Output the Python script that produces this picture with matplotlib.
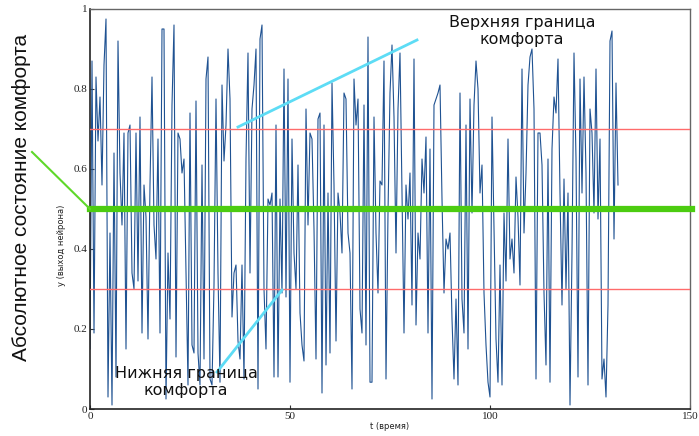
import matplotlib
matplotlib.use("Agg")
import matplotlib.pyplot as plt
from matplotlib.lines import Line2D

# neuron output y over time t (step 0.5)
y_values = [
    0.15, 0.87, 0.19, 0.83, 0.67, 0.78, 0.56, 0.86, 0.975, 0.03, 0.44, 0.01, 0.64, 0.08, 0.92,
    0.59, 0.46, 0.69, 0.15, 0.69, 0.71, 0.34, 0.30, 0.69, 0.32, 0.73, 0.19, 0.56, 0.48, 0.175,
    0.56, 0.83, 0.46, 0.375, 0.675, 0.19, 0.95, 0.95, 0.025, 0.39, 0.225, 0.76, 0.96, 0.13, 0.69,
    0.675, 0.59, 0.625, 0.34, 0.06, 0.74, 0.16, 0.14, 0.77, 0.14, 0.06, 0.61, 0.125, 0.825, 0.88,
    0.075, 0.06, 0.31, 0.775, 0.34, 0.067, 0.81, 0.62, 0.71, 0.90, 0.775, 0.23, 0.34, 0.36, 0.17,
    0.125, 0.36, 0.075, 0.625, 0.89, 0.34, 0.75, 0.81, 0.90, 0.05, 0.925, 0.96, 0.30, 0.15, 0.525,
    0.51, 0.54, 0.08, 0.71, 0.08, 0.525, 0.29, 0.85, 0.28, 0.825, 0.067, 0.675, 0.39, 0.30, 0.61,
    0.24, 0.16, 0.12, 0.75, 0.46, 0.69, 0.675, 0.45, 0.125, 0.725, 0.74, 0.04, 0.71, 0.11, 0.54,
    0.14, 0.815, 0.56, 0.17, 0.54, 0.49, 0.39, 0.79, 0.775, 0.44, 0.39, 0.05, 0.825, 0.71, 0.775,
    0.25, 0.19, 0.76, 0.16, 0.93, 0.067, 0.067, 0.73, 0.44, 0.29, 0.57, 0.56, 0.87, 0.075, 0.49,
    0.79, 0.91, 0.73, 0.39, 0.75, 0.89, 0.54, 0.19, 0.56, 0.475, 0.59, 0.26, 0.875, 0.21, 0.44,
    0.375, 0.625, 0.54, 0.68, 0.19, 0.65, 0.025, 0.76, 0.775, 0.79, 0.81, 0.525, 0.29, 0.425, 0.40,
    0.44, 0.225, 0.075, 0.275, 0.06, 0.79, 0.275, 0.19, 0.71, 0.15, 0.775, 0.49, 0.76, 0.87, 0.80,
    0.54, 0.61, 0.29, 0.16, 0.067, 0.03, 0.73, 0.46, 0.175, 0.067, 0.36, 0.06, 0.49, 0.32, 0.675,
    0.375, 0.425, 0.34, 0.58, 0.48, 0.31, 0.85, 0.44, 0.59, 0.81, 0.88, 0.90, 0.75, 0.075, 0.69,
    0.69, 0.61, 0.29, 0.11, 0.625, 0.067, 0.65, 0.78, 0.74, 0.875, 0.54, 0.26, 0.575, 0.30, 0.54,
    0.01, 0.39, 0.89, 0.625, 0.08, 0.825, 0.54, 0.83, 0.59, 0.06, 0.75, 0.69, 0.49, 0.85, 0.475,
    0.675, 0.075, 0.125, 0.03, 0.26, 0.92, 0.945, 0.425, 0.815, 0.56,
]
t_step = 0.5
t_values = [i * t_step for i in range(len(y_values))]

upper_bound = 0.7
lower_bound = 0.3
comfort_level = 0.5

x_ticks = [0, 50, 100, 150]
y_ticks = [0, 0.2, 0.4, 0.6, 0.8, 1]
y_tick_labels = ["0", "0.2", "0.4", "0.6", "0.8", "1"]

W, H = 699, 436
fig = plt.figure(figsize=(W / 100, H / 100), dpi=100)
ax = fig.add_axes([90 / W, (H - 409) / H, 600 / W, 400 / H])

ax.plot(t_values, y_values, color="#1f5292", lw=0.8, zorder=2)
ax.axhline(upper_bound, color="#ff6b6b", lw=1.0, zorder=3)
ax.axhline(lower_bound, color="#ff6b6b", lw=1.0, zorder=3)
ax.axhline(comfort_level, color="#4ccc10", lw=4.5, zorder=4, clip_on=False, xmax=1.004)

ax.set_xlim(0, 150)
ax.set_ylim(0, 1)
ax.set_xticks(x_ticks)
ax.set_xticklabels([str(v) for v in x_ticks])
ax.set_yticks(y_ticks)
ax.set_yticklabels(y_tick_labels)
ax.tick_params(direction="in", length=3, width=0.8, colors="#333333",
               labelsize=8, pad=2)
for lab in ax.get_xticklabels() + ax.get_yticklabels():
    lab.set_family("Liberation Serif")
    lab.set_color("#222222")

for side in ["left", "bottom"]:
    ax.spines[side].set_color("#222222")
    ax.spines[side].set_linewidth(1.2)
for side in ["top", "right"]:
    ax.spines[side].set_color("#666666")
    ax.spines[side].set_linewidth(1.0)

ax.set_xlabel("t (время)", fontsize=6, labelpad=1, color="#222222")
fig.text(62 / W, 1 - 245 / H, "y (выход нейрона)", fontsize=6, rotation=90,
         ha="center", va="center", color="#222222")

# annotations
fig.text(522 / W, 1 - 31 / H, "Верхняя граница\nкомфорта", fontsize=11.5,
         ha="center", va="center", linespacing=1.1, color="#111111")
fig.text(186 / W, 1 - 382 / H, "Нижняя граница\nкомфорта", fontsize=11.5,
         ha="center", va="center", linespacing=1.1, color="#111111",
         zorder=10)

def fig_line(x0, y0, x1, y1, color, lw):
    fig.add_artist(Line2D([x0 / W, x1 / W], [1 - y0 / H, 1 - y1 / H],
                          color=color, lw=lw, transform=fig.transFigure, zorder=6))

fig_line(238, 127, 417, 40, "#5ddcf5", 2.0)
fig_line(217, 372, 282, 290, "#5ddcf5", 2.0)
fig_line(32, 152, 90, 209, "#5fd82a", 1.5)

fig.text(22 / W, 1 - 197 / H, "Абсолютное состояние комфорта", fontsize=15,
         family="Liberation Sans", rotation=90, ha="center", va="center",
         color="#111111")

fig.savefig("out.png", dpi=100)
